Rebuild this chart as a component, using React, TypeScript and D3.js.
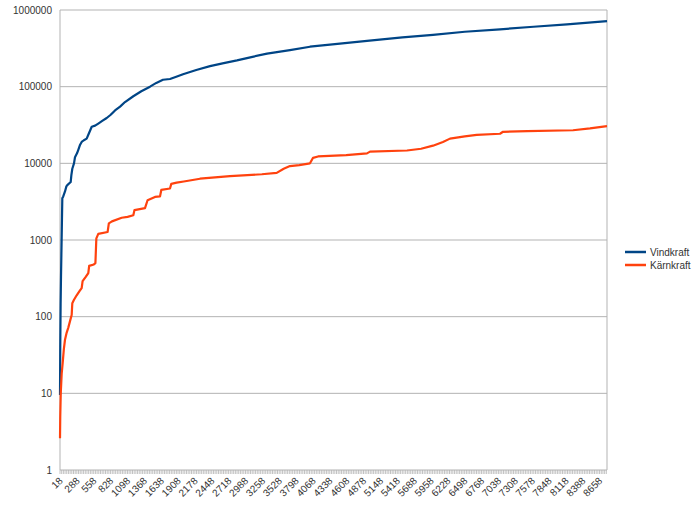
import React from 'react';
import * as d3 from 'd3';

const hourStart = 18;
const hourEnd = 8777;
const labelStep = 270;
const tickStep = 27;
const yTicks = [1, 10, 100, 1000, 10000, 100000, 1000000];
const seriesNames = ['Vindkraft', 'Kärnkraft'];
const seriesColors = ['#004586', '#ff420e'];

const vindHours = [18, 22, 28, 34, 42, 50, 55, 70, 98, 120, 135, 189, 200, 215, 242, 258, 290, 311, 340, 365, 400, 445, 480, 526, 580, 631, 700, 766, 830, 899, 980, 1059, 1192, 1320, 1459, 1560, 1667, 1779, 1880, 1988, 2200, 2420, 2640, 2852, 3100, 3333, 3700, 4021, 4500, 4934, 5500, 5991, 6500, 7064, 7600, 8137, 8777];
const vindValues = [9.5, 40, 150, 330, 800, 2000, 3500, 3700, 4300, 5000, 5200, 5700, 7000, 8500, 10000, 12000, 13500, 15000, 17500, 19000, 20000, 21000, 24500, 30000, 31000, 33000, 36000, 39000, 43000, 49000, 55000, 63000, 75000, 87000, 100000, 112000, 123000, 126000, 135000, 145000, 165000, 185000, 203000, 220000, 245000, 270000, 300000, 332000, 365000, 395000, 440000, 475000, 520000, 560000, 605000, 650000, 715000];

const karnHours = [18, 22, 30, 45, 61, 80, 98, 125, 151, 190, 205, 215, 240, 285, 330, 365, 380, 430, 471, 485, 560, 585, 600, 631, 780, 800, 850, 1006, 1100, 1192, 1210, 1379, 1420, 1539, 1619, 1640, 1779, 1800, 1886, 2000, 2260, 2740, 3250, 3488, 3600, 3700, 3850, 4021, 4070, 4150, 4600, 4934, 4982, 5574, 5800, 5991, 6150, 6263, 6500, 6690, 7064, 7112, 7500, 8233, 8505, 8777];
const karnValues = [2.6, 5, 10, 18, 25, 38, 50, 62, 72, 95, 105, 150, 165, 190, 215, 235, 290, 330, 370, 460, 480, 500, 1050, 1200, 1270, 1650, 1750, 1950, 2000, 2100, 2450, 2600, 3300, 3650, 3700, 4500, 4700, 5400, 5600, 5800, 6300, 6800, 7200, 7500, 8500, 9200, 9500, 10000, 11800, 12300, 12800, 13500, 14200, 14700, 15500, 17000, 19000, 21000, 22500, 23500, 24300, 25800, 26300, 27000, 28500, 30500];

const seriesHours = [vindHours, karnHours];
const seriesValues = [vindValues, karnValues];

export default function App() {
  const left = 60, right = 607, top = 10, bottom = 470;
  const x = d3.scaleLinear().domain([hourStart, hourEnd]).range([left, right]);
  const y = d3.scaleLog().domain([1, 1000000]).range([bottom, top]);
  const line = d3.line<[number, number]>().x(d => x(d[0])).y(d => y(d[1])).curve(d3.curveLinear);

  const labels: number[] = [];
  for (let h = hourStart; h <= hourEnd; h += labelStep) labels.push(h);
  const ticks: number[] = [];
  for (let h = hourStart; h <= hourEnd; h += tickStep) ticks.push(h);

  const font = '"Liberation Sans", Arial, sans-serif';

  return (
    <svg width={700} height={517} style={{ position: 'absolute', left: 0, top: 0, background: '#fff' }} fontFamily={font}>
      <rect x={0} y={0} width={700} height={517} fill="#fff" />
      {yTicks.map(t => (
        <line key={'g' + t} x1={left} x2={right} y1={y(t)} y2={y(t)} stroke="#b3b3b3" strokeWidth={1} />
      ))}
      <line x1={right} x2={right} y1={top} y2={bottom} stroke="#b3b3b3" strokeWidth={1} />
      <line x1={left} x2={left} y1={top} y2={bottom} stroke="#b3b3b3" strokeWidth={1} />
      {ticks.map(h => (
        <line key={'t' + h} x1={x(h)} x2={x(h)} y1={bottom} y2={bottom + 4} stroke="#b3b3b3" strokeWidth={0.8} />
      ))}
      {yTicks.map(t => (
        <text key={'yl' + t} x={left - 8} y={y(t)} dy="0.35em" textAnchor="end" fontSize={10} fill="#333">{t}</text>
      ))}
      {labels.map(h => (
        <text key={'xl' + h} transform={`translate(${x(h) + 1},${bottom + 9}) rotate(-45)`} dy="0.35em" textAnchor="end" fontSize={10} fill="#333">{h}</text>
      ))}
      {seriesNames.map((name, i) => {
        const pts = seriesHours[i].map((h, j) => [h, seriesValues[i][j]] as [number, number]);
        return <path key={name} d={line(pts) || ''} fill="none" stroke={seriesColors[i]} strokeWidth={2.2} strokeLinejoin="round" />;
      })}
      {seriesNames.map((name, i) => (
        <g key={'lg' + name} transform={`translate(625,${252 + i * 13})`}>
          <line x1={0} x2={21} y1={0} y2={0} stroke={seriesColors[i]} strokeWidth={2.5} />
          <text x={25} y={0} dy="0.35em" fontSize={10} fill="#333">{name}</text>
        </g>
      ))}
    </svg>
  );
}
